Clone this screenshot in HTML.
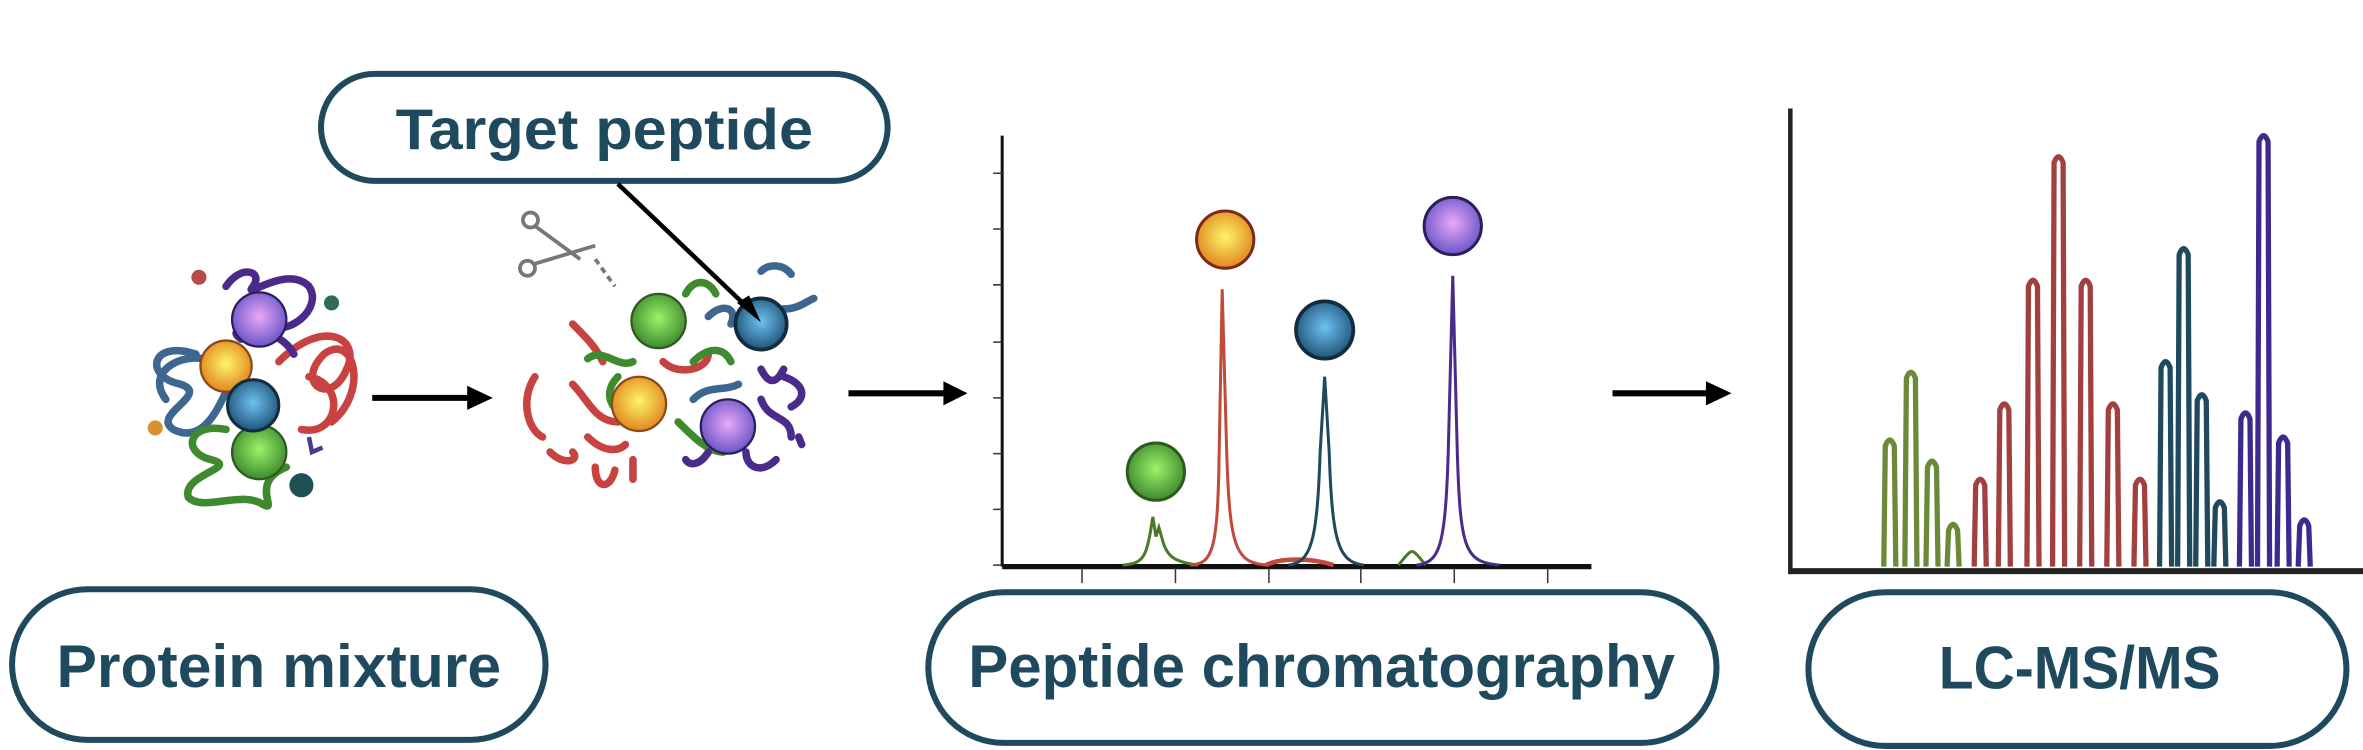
<!DOCTYPE html>
<html><head><meta charset="utf-8"><style>
html,body{margin:0;padding:0;background:#fff;}
svg{display:block;}
text{font-family:"Liberation Sans",sans-serif;font-weight:bold;fill:#1f4a5e;}
</style></head><body>
<svg width="2363" height="750" viewBox="0 0 1568 497.7" preserveAspectRatio="none" xmlns="http://www.w3.org/2000/svg">
<defs>
<radialGradient id="gP" cx="50%" cy="45%" r="55%"><stop offset="0" stop-color="#e9a8f6"/><stop offset="1" stop-color="#6a55c9"/></radialGradient>
<radialGradient id="gY" cx="50%" cy="45%" r="55%"><stop offset="0" stop-color="#fdf56a"/><stop offset="1" stop-color="#e2861f"/></radialGradient>
<radialGradient id="gB" cx="50%" cy="45%" r="55%"><stop offset="0" stop-color="#6fc1f3"/><stop offset="1" stop-color="#1f5478"/></radialGradient>
<radialGradient id="gG" cx="50%" cy="45%" r="55%"><stop offset="0" stop-color="#9bf36a"/><stop offset="1" stop-color="#3f8a2e"/></radialGradient>
</defs>

<!-- pills -->
<g fill="none" stroke="#1f4a5e" stroke-width="4">
<rect x="213" y="49" width="376" height="71" rx="35.5"/>
<rect x="8" y="391" width="354" height="100" rx="50"/>
<rect x="616" y="393" width="523" height="100" rx="50"/>
<rect x="1200" y="393" width="357" height="102" rx="51"/>
</g>
<text x="401" y="99" font-size="38" text-anchor="middle" textLength="277" lengthAdjust="spacingAndGlyphs">Target peptide</text>
<text x="185" y="456" font-size="40" text-anchor="middle" textLength="295" lengthAdjust="spacingAndGlyphs">Protein mixture</text>
<text x="877" y="456" font-size="40" text-anchor="middle" textLength="469" lengthAdjust="spacingAndGlyphs">Peptide chromatography</text>
<text x="1380" y="457" font-size="40" text-anchor="middle" textLength="187" lengthAdjust="spacingAndGlyphs">LC-MS/MS</text>

<!-- arrows -->
<g stroke="#000" stroke-width="4" fill="none">
<line x1="247" y1="264" x2="312" y2="264"/>
<line x1="563" y1="261" x2="628" y2="261"/>
<line x1="1070" y1="261" x2="1134" y2="261"/>
</g>
<g fill="#000">
<path d="M310,256 L327,264 L310,272Z"/>
<path d="M626,253 L642,261 L626,269Z"/>
<path d="M1132,253 L1149,261 L1132,269Z"/>
</g>

<!-- protein mixture -->
<g fill="none" stroke-width="5" stroke-linecap="round">
<path d="M130,235 C100,225 95,250 120,255 C140,262 100,275 115,285 C135,295 145,270 150,260" stroke="#3d6690"/>
<path d="M110,265 C95,245 125,232 140,240" stroke="#3d6690"/>
<path d="M185,240 C215,210 240,225 230,245 C220,270 195,255 215,235 C235,220 245,260 220,280" stroke="#c8433f"/>
<path d="M205,250 C230,255 225,290 200,285" stroke="#c8433f"/>
<path d="M150,190 C160,175 175,180 168,190 C160,200 190,175 205,190 C215,205 190,225 175,215" stroke="#4a2a8a"/>
<path d="M160,225 C145,215 185,215 195,235" stroke="#4a2a8a"/>
<path d="M150,285 C125,280 120,300 140,305 C160,310 120,315 125,330 C135,340 160,325 175,335 C185,340 165,320 190,310" stroke="#3f8a2e"/>
</g>
<circle cx="150" cy="243" r="17" fill="url(#gY)" stroke="#8a4a1a" stroke-width="1.5"/>
<circle cx="172" cy="300" r="18" fill="url(#gG)" stroke="#2e5a20" stroke-width="1.5"/>
<circle cx="172" cy="212" r="18" fill="url(#gP)" stroke="#2a1f5a" stroke-width="1.5"/>
<circle cx="168" cy="269" r="17" fill="url(#gB)" stroke="#132c3f" stroke-width="2"/>
<circle cx="132" cy="184" r="5" fill="#b84a4a"/><circle cx="220" cy="201" r="5" fill="#2f6a5a"/>
<circle cx="103" cy="284" r="5" fill="#d9902e"/><circle cx="200" cy="322" r="8" fill="#1f5054"/>
<path d="M205,290 L207,300 L214,297" stroke="#4a3a8a" stroke-width="3" fill="none"/>

<!-- digested -->
<g fill="none" stroke-width="5" stroke-linecap="round">
<path d="M355,250 C345,265 350,285 360,290" stroke="#c8433f"/>
<path d="M365,300 C375,310 385,305 380,300" stroke="#c8433f"/>
<path d="M380,215 C390,225 395,230 400,240" stroke="#c8433f"/>
<path d="M390,290 C400,300 410,300 415,295" stroke="#c8433f"/>
<path d="M395,310 C395,325 405,325 408,312" stroke="#c8433f"/>
<path d="M420,305 L420,318" stroke="#c8433f"/>
<path d="M440,240 C450,250 470,245 470,235" stroke="#c8433f"/>
<path d="M380,255 C390,265 395,280 410,280" stroke="#c8433f"/>
<path d="M390,238 C400,230 410,245 420,240" stroke="#3f8a2e"/>
<path d="M410,250 C400,260 405,272 415,275" stroke="#3f8a2e"/>
<path d="M450,280 C460,290 470,300 480,300" stroke="#3f8a2e"/>
<path d="M460,240 C470,230 480,230 485,240" stroke="#3f8a2e"/>
<path d="M455,195 C460,185 470,185 475,195" stroke="#3f8a2e"/>
<path d="M505,180 C510,175 520,175 525,182" stroke="#3d6690"/>
<path d="M520,205 C530,205 535,200 540,198" stroke="#3d6690"/>
<path d="M470,210 C480,200 490,205 485,215" stroke="#3d6690"/>
<path d="M460,265 C470,255 480,260 490,255" stroke="#3d6690"/>
<path d="M505,265 C510,280 525,275 525,290" stroke="#4a2a8a"/>
<path d="M520,250 C535,255 535,265 525,270" stroke="#4a2a8a"/>
<path d="M495,300 C495,310 505,315 515,305" stroke="#4a2a8a"/>
<path d="M505,245 C510,255 515,255 520,245" stroke="#4a2a8a"/>
<path d="M470,300 C465,308 458,310 455,305" stroke="#4a2a8a"/>
<path d="M530,290 L532,295" stroke="#4a2a8a"/>
</g>
<circle cx="437" cy="213" r="18" fill="url(#gG)" stroke="#2e5a20" stroke-width="1.5"/>
<circle cx="424" cy="268" r="18" fill="url(#gY)" stroke="#8a4a1a" stroke-width="1.5"/>
<circle cx="483" cy="283" r="18" fill="url(#gP)" stroke="#2a1f5a" stroke-width="1.5"/>
<circle cx="505" cy="215" r="17" fill="url(#gB)" stroke="#132c3f" stroke-width="2.5"/>
<!-- scissors -->
<g stroke="#777" stroke-width="2.5" fill="none">
<circle cx="352" cy="146" r="5"/><circle cx="350" cy="178" r="5"/>
<path d="M355,150 L385,172 M355,175 L395,163"/>
<path d="M395,172 L408,190" stroke-dasharray="4,3"/>
</g>
<line x1="410" y1="122" x2="497" y2="205" stroke="#000" stroke-width="3"/>
<path d="M489,201 L505,214 L497,196Z" fill="#000"/>

<!-- chromatography -->
<g stroke="#111" fill="none">
<line x1="665" y1="90" x2="665" y2="376" stroke-width="2"/>
<line x1="665" y1="376" x2="1056" y2="376" stroke-width="3.5"/>
<g stroke-width="1" stroke="#333">
<path d="M659,115h6M659,152h6M659,189h6M659,227h6M659,264h6M659,301h6M659,338h6M659,375h6"/>
<path d="M718,377v10M780,377v10M842,377v10M903,377v10M965,377v10M1027,377v10"/>
</g>
</g>
<g fill="none" stroke-width="2">
<path d="M745,375 C758,374 760,370 763,355 L765,343 L767,356 L769,350 L771,357 C774,370 780,373 795,375" stroke="#4a7a2a"/>
<path d="M928,375 C932,370 935,366 937,366 C939,366 942,370 946,375" stroke="#4a7a2a"/>
<path d="M790,375 C805,374 808,365 809,300 L811,192 L814,300 C816,365 820,374 842,375" stroke="#c14a3a"/>
<path d="M840,375 C850,370 870,370 885,375" stroke="#c14a3a" stroke-width="3"/>
<path d="M855,375 C870,373 874,360 876,300 L879,250 L882,300 C884,360 888,373 905,375" stroke="#1f4a5e"/>
<path d="M940,375 C955,373 959,365 961,300 L964,183 L967,300 C969,365 972,373 995,375" stroke="#4a2a8a"/>
</g>
<circle cx="767" cy="313" r="19" fill="url(#gG)" stroke="#2e5a20" stroke-width="2"/>
<circle cx="813" cy="159" r="19" fill="url(#gY)" stroke="#7a2a1a" stroke-width="2"/>
<circle cx="879" cy="219" r="19" fill="url(#gB)" stroke="#132c3f" stroke-width="2.5"/>
<circle cx="964" cy="150" r="19" fill="url(#gP)" stroke="#2a1f5a" stroke-width="2"/>

<!-- MS -->
<g stroke="#222" fill="none">
<line x1="1188" y1="72" x2="1188" y2="381" stroke-width="3"/>
<line x1="1187" y1="379" x2="1568" y2="379" stroke-width="4"/>
</g>
<g fill="none" stroke-width="3.5" stroke-linejoin="round">
<path d="M1250,376 L1251,296 Q1254,288 1257,296 L1258,376 M1264,376 L1265,251 Q1268,243 1271,251 L1272,376 M1278,376 L1279,310 Q1282,302 1285,310 L1286,376 M1292,376 L1293,352 Q1296,344 1299,352 L1300,376" stroke="#6a8a3a"/>
<path d="M1310,376 L1311,322 Q1314,314 1317,322 L1318,376 M1326,376 L1327,272 Q1330,264 1333,272 L1334,376 M1345,376 L1346,190 Q1349,182 1352,190 L1353,376 M1362,376 L1363,108 Q1366,100 1369,108 L1370,376 M1380,376 L1381,190 Q1384,182 1387,190 L1388,376 M1398,376 L1399,272 Q1402,264 1405,272 L1406,376 M1416,376 L1417,322 Q1420,314 1423,322 L1424,376" stroke="#a23f3f"/>
<path d="M1433,376 L1434,244 Q1437,236 1440,244 L1441,376 M1445,376 L1446,169 Q1449,161 1452,169 L1453,376 M1457,376 L1458,266 Q1461,258 1464,266 L1465,376 M1469,376 L1470,337 Q1473,329 1476,337 L1477,376" stroke="#1f4a5e"/>
<path d="M1486,376 L1487,278 Q1490,270 1493,278 L1494,376 M1498,376 L1499,94 Q1502,86 1505,94 L1506,376 M1511,376 L1512,294 Q1515,286 1518,294 L1519,376 M1525,376 L1526,349 Q1529,341 1532,349 L1533,376" stroke="#3e2a8e"/>
</g>
</svg>
</body></html>
